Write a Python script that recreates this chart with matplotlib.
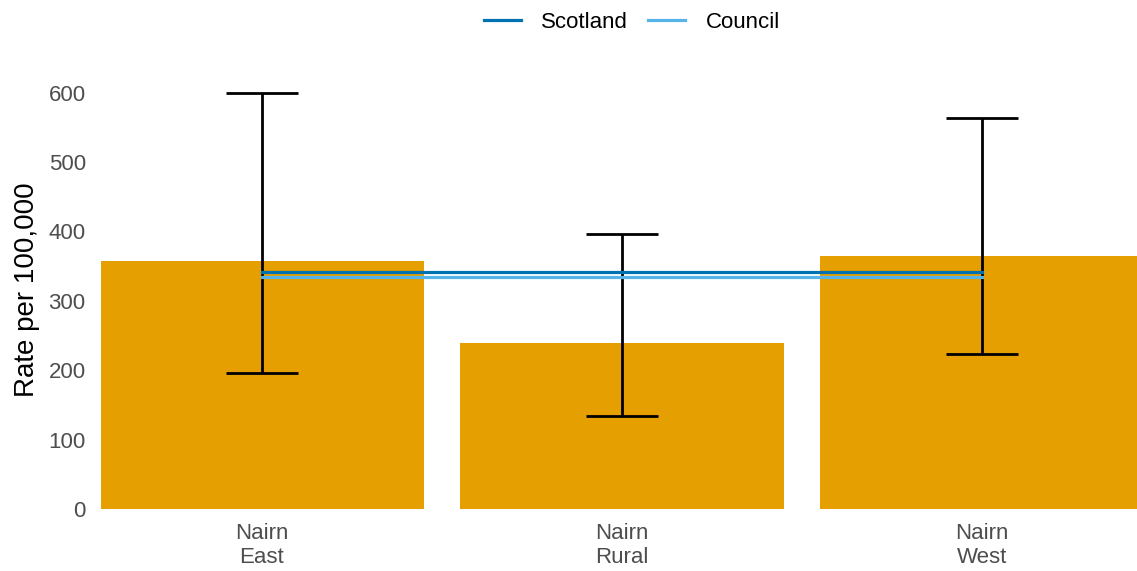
import matplotlib.pyplot as plt
import numpy as np

plt.rcParams["font.family"] = ["Liberation Sans", "DejaVu Sans"]

# data
areas = ["Nairn\nEast", "Nairn\nRural", "Nairn\nWest"]
rates = [358, 239, 365]
ci_lower = [196, 134, 224]
ci_upper = [600, 397, 564]
scotland_rate = 342
council_rate = 335

bar_colour = "#E69F00"
scotland_colour = "#0072B2"
council_colour = "#56B4E9"

x = np.arange(1, len(areas) + 1)

fig = plt.figure(figsize=(11.37, 5.71), dpi=100)
ax = fig.add_axes([0.0888, 0.1086, 0.9112, 0.768])

ax.bar(x, rates, width=0.9, color=bar_colour, zorder=1)

# error bars with caps
ax.vlines(x, ci_lower, ci_upper, color="black", linewidth=2, zorder=3)
ax.hlines(ci_lower, x - 0.1, x + 0.1, color="black", linewidth=2, zorder=3)
ax.hlines(ci_upper, x - 0.1, x + 0.1, color="black", linewidth=2, zorder=3)

# reference lines
ax.plot([x[0], x[-1]], [scotland_rate] * 2, color=scotland_colour, linewidth=2.3,
        label="Scotland", zorder=4)
ax.plot([x[0], x[-1]], [council_rate] * 2, color=council_colour, linewidth=2.3,
        label="Council", zorder=4)

ax.set_xlim(0.553, 3.43)
ax.set_ylim(0, 632)
ax.set_xticks(x)
ax.set_xticklabels(areas)
ax.set_yticks([0, 100, 200, 300, 400, 500, 600])
ax.tick_params(axis="both", length=0, labelsize=16, labelcolor="#4D4D4D")
ax.tick_params(axis="y", pad=11)
ax.tick_params(axis="x", pad=10)
ax.set_ylabel("Rate per 100,000", fontsize=20, color="black", labelpad=6)
for side in ax.spines.values():
    side.set_visible(False)

fig.legend(loc="center", bbox_to_anchor=(632 / 1137, 1 - 22 / 571), ncol=2, frameon=False,
           fontsize=16, handlelength=1.67, columnspacing=0.9, handletextpad=0.9,
           borderpad=0.0)

fig.savefig("out.png", dpi=100)
plt.close(fig)
